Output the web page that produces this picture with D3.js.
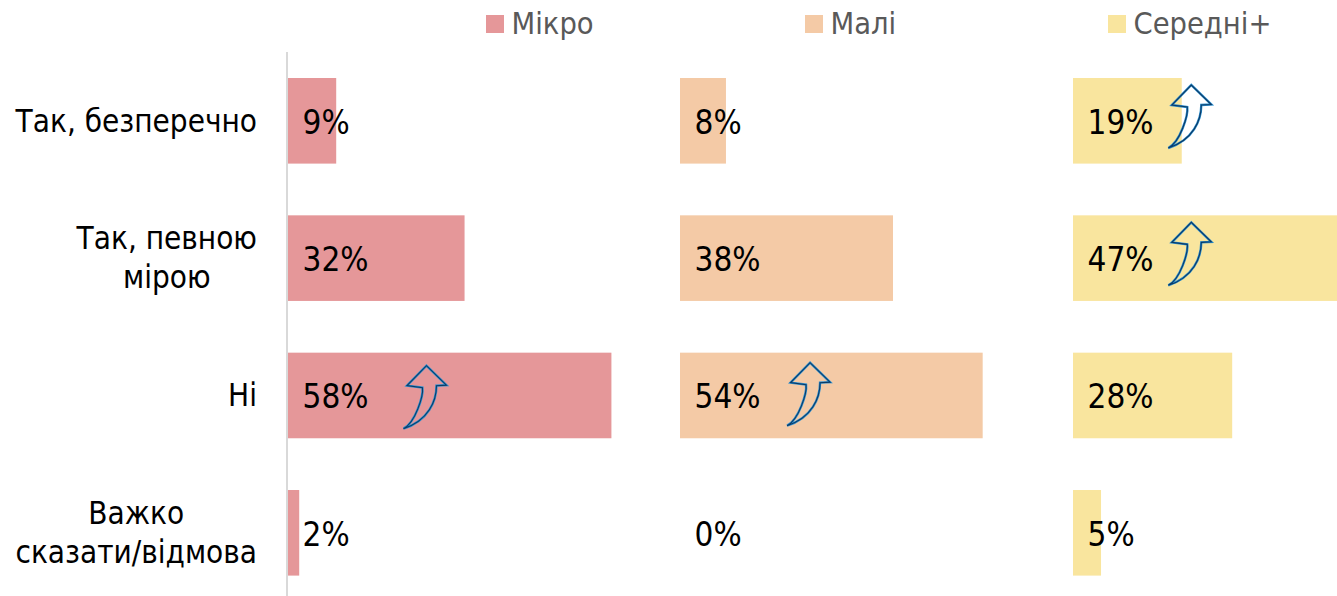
<!DOCTYPE html>
<html><head><meta charset="utf-8">
<script src="https://cdn.jsdelivr.net/npm/d3@7"></script>
<style>
html,body{margin:0;padding:0;background:#fff}
svg{display:block}
text{font-family:"DejaVu Sans Condensed","DejaVu Sans",sans-serif;font-stretch:condensed}
</style></head><body>
<svg id="c" width="1337" height="596"></svg>
<script>
const categories=["Так, безперечно","Так, певною мірою","Ні","Важко сказати/відмова"];
const categoryLines=[["Так, безперечно"],["Так, певною","мірою"],["Ні"],["Важко","сказати/відмова"]];
const seriesNames=["Мікро","Малі","Середні+"];
const colors=["#e59799","#f4caa6","#f9e59e"];
const mikro=[8.6,31.5,57.7,2];
const mali=[8.2,38,54,0];
const seredni=[19.4,47.1,28.4,5];
const panelStarts=[288,680,1073];
const legendX=[486,805,1108];
const arrowMarks=[{s:2,c:0,at:17,dy:7},{s:2,c:1,at:17,dy:7},{s:0,c:2,at:20.6,dy:13},{s:1,c:2,at:19.1,dy:10}];
const arrowPath="M0,63 C12,57 20,30 19,22 L3.5,20 L23,0 L43,19.5 L33,20 C33,35 25,55 0,63 Z";

const svg=d3.select("#c");
const yy=d3.scaleBand().domain(categories).range([78,575.6]).paddingInner(0.3767).paddingOuter(0).align(0);
const series=[mikro,mali,seredni];
const scales=panelStarts.map(p=>d3.scaleLinear().domain([0,47.1]).range([p,p+264]));

svg.append("line").attr("x1",287).attr("x2",287).attr("y1",52).attr("y2",596).attr("stroke","#d9d9d9").attr("stroke-width",2);

series.forEach((vals,i)=>{
  const g=svg.append("g");
  const x=scales[i];
  g.selectAll("rect").data(vals).join("rect")
    .attr("x",x(0)).attr("y",(d,j)=>yy(categories[j]))
    .attr("width",d=>x(d)-x(0)).attr("height",yy.bandwidth()).attr("fill",colors[i]);
  g.selectAll("text").data(vals).join("text")
    .attr("x",x(0)+14.5).attr("y",(d,j)=>yy(categories[j])+46)
    .attr("dominant-baseline","middle")
    .attr("font-size",33).attr("fill","#000").text(d=>Math.round(d)+"%");
});

categoryLines.forEach((lines,j)=>{
  const cy=yy(categories[j])+44.5;
  const block=svg.append("g");
  const texts=lines.map((l,k)=>block.append("text").attr("text-anchor","middle")
      .attr("y",cy+(k-(lines.length-1)/2)*39)
      .attr("dominant-baseline","middle")
      .attr("font-size",31.2).attr("fill","#000").text(l));
  const w=d3.max(texts,t=>t.node().getComputedTextLength());
  texts.forEach(t=>t.attr("x",257-w/2));
});

seriesNames.forEach((n,i)=>{
  svg.append("rect").attr("x",legendX[i]).attr("y",15).attr("width",18).attr("height",18).attr("fill",colors[i]);
  svg.append("text").attr("x",legendX[i]+25.5).attr("y",25)
    .attr("dominant-baseline","middle")
    .attr("font-size",30.5).attr("fill","#595959").text(n);
});

arrowMarks.forEach(a=>{
  const tx=scales[a.s](a.at), ty=yy(categories[a.c])+a.dy;
  const g=svg.append("g").attr("transform",`translate(${tx},${ty})`);
  g.append("path").attr("d",arrowPath).attr("fill","none").attr("stroke","#2a8fd0").attr("stroke-width",2.4);
  g.append("path").attr("d",arrowPath).attr("fill","none").attr("stroke","#0c3a66").attr("stroke-width",1.1);
});
</script>
</body></html>
